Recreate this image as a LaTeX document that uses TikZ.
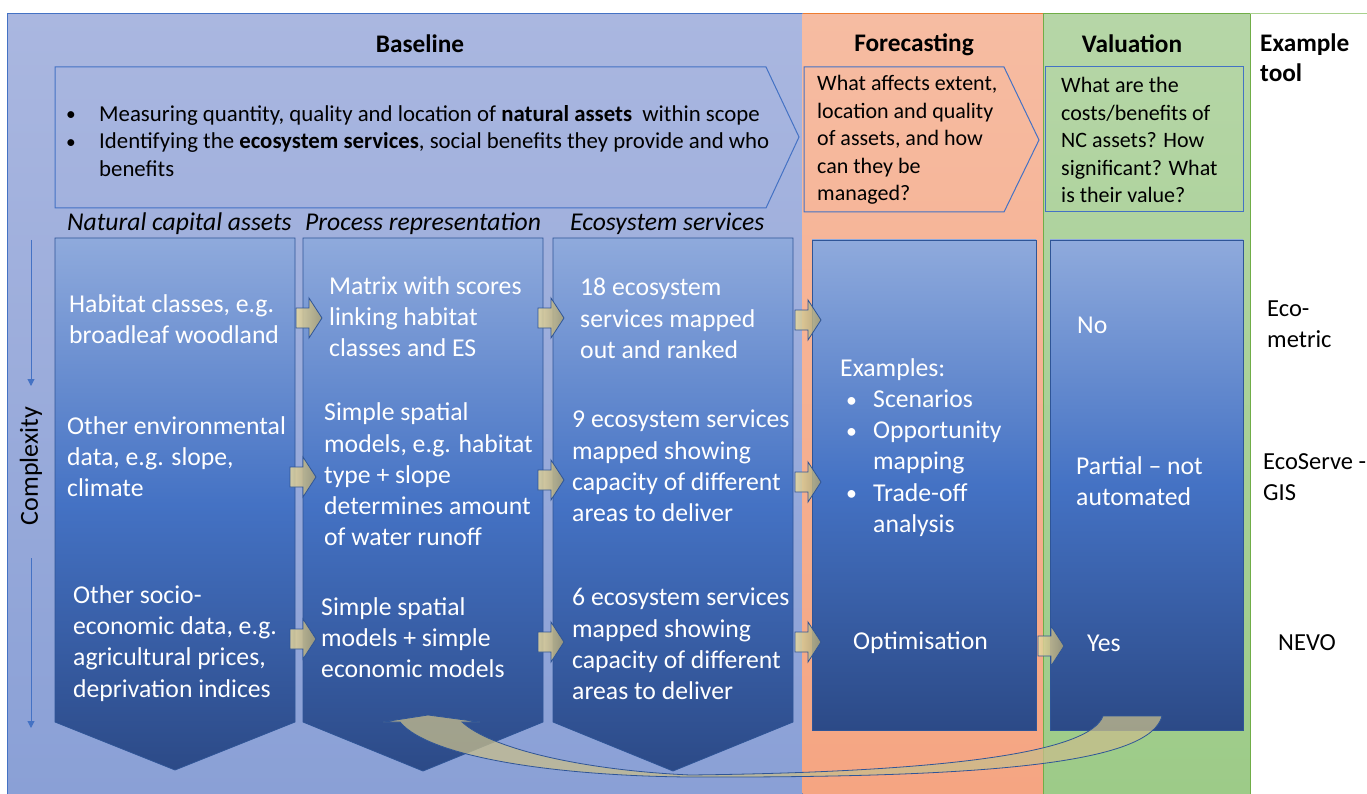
\documentclass[tikz,border=0pt]{standalone}
\usepackage{fontspec}
\setmainfont{Carlito}
\usetikzlibrary{arrows.meta}
\definecolor{basetop}{RGB}{170,183,224}
\definecolor{basebot}{RGB}{138,160,214}
\definecolor{foretop}{RGB}{246,188,162}
\definecolor{forebot}{RGB}{245,165,130}
\definecolor{valtop}{RGB}{182,214,167}
\definecolor{valbot}{RGB}{157,203,136}
\definecolor{coltop}{RGB}{143,170,220}
\definecolor{colmid}{RGB}{68,114,196}
\definecolor{colbot}{RGB}{44,74,135}
\definecolor{accblue}{RGB}{68,114,196}
\definecolor{darkblue}{RGB}{47,85,151}
\definecolor{accorange}{RGB}{237,125,49}
\definecolor{accgreen}{RGB}{112,173,71}
\definecolor{lightgreen}{RGB}{169,209,142}
\definecolor{arrL}{RGB}{232,216,158}
\definecolor{arrR}{RGB}{165,158,118}
\definecolor{curvefill}{RGB}{200,190,140}
\newcommand{\smbul}{\raisebox{0.5pt}{\scalebox{0.85}{\textbullet}}}
\tikzset{
  hdr/.style={font=\fontsize{25.3}{30}\selectfont\bfseries, inner sep=0pt},
  colhdr/.style={font=\fontsize{25.6}{30}\selectfont\itshape, inner sep=0pt, anchor=west},
  wtext/.style={text=white, font=\fontsize{25.7}{31.2}\selectfont, align=left, anchor=west, inner sep=0pt},
  ktext/.style={text=black, font=\fontsize{24.5}{31}\selectfont, align=left, anchor=west, inner sep=0pt},
  qtext/.style={text=black, font=\fontsize{22}{27.5}\selectfont, align=left, anchor=west, inner sep=0pt},
  btext/.style={text=black, font=\fontsize{22.8}{27.5}\selectfont, align=left, anchor=west, inner sep=0pt},
  chev/.style={draw=accblue, line width=1pt},
  colshade/.style={top color=coltop, bottom color=colbot, middle color=colmid, draw=darkblue, line width=0.8pt},
  barrow/.pic={\shade[left color=arrL, right color=arrR, draw=darkblue, line width=0.8pt, fill opacity=0.85]
     (0,-10) -- (13,-10) -- (13,-20) -- (26,0) -- (13,20) -- (13,10) -- (0,10) -- cycle;},
  cplx/.style={-{Triangle[length=7pt,width=7pt]}, draw=accblue, line width=1pt}
}
\begin{document}
\begin{tikzpicture}[x=1pt,y=-1pt]
\useasboundingbox (0,0) rectangle (1367,794);
\fill[white] (0,0) rectangle (1367,794);
% backgrounds
\shade[top color=basetop, bottom color=basebot] (7,14) rectangle (802,794);
\draw[accblue, line width=1pt] (7,794) -- (7,14) -- (802,14) -- (802,794);
\shade[top color=foretop, bottom color=forebot] (802.5,14) rectangle (1043,794);
\draw[accorange, line width=1pt] (802.5,14) -- (1043,14);
\shade[top color=valtop, bottom color=valbot] (1043,14) rectangle (1250,794);
\draw[accgreen, line width=1pt] (1043,794) -- (1043,14) -- (1250,14) -- (1250,794);
\draw[lightgreen, line width=1pt] (1250,14) -- (1367,14);
% headers
\node[hdr] (hbase) at (420,44) {Baseline};
\node[hdr] (hfore) at (914,45) {Forecasting};
\node[hdr] (hval) at (1132,44) {Valuation};
\node[hdr, anchor=west, align=left, font=\fontsize{25.3}{30}\selectfont\bfseries] (htool) at (1260,58) {Example\\tool};
% top chevrons
\draw[chev] (55,67) -- (766,67) -- (799,137) -- (766,208) -- (55,208) -- cycle;
\node[btext] (bul) at (66,141) {\makebox[33pt][l]{\smbul}Measuring quantity, quality and location of \textbf{natural assets}\ \ within scope\\
\makebox[33pt][l]{\smbul}Identifying the \textbf{ecosystem services}, social benefits they provide and who\\
\hspace*{33pt}benefits};
\draw[chev] (804,67) -- (1004,67) -- (1039,140) -- (1004,212) -- (804,212) -- cycle;
\node[qtext] (fq) at (817,140) {What affects extent,\\location and quality\\of assets, and how\\can they be\\managed?};
\draw[chev] (1045,67) rectangle (1243,212);
\node[qtext] (vq) at (1061,140) {What are the\\costs/benefits of\\NC assets? How\\significant? What\\is their value?};
% column headers
\node[colhdr] (h1) at (67,224) {Natural capital assets};
\node[colhdr] (h2) at (305,224) {Process representation};
\node[colhdr] (h3) at (570,224) {Ecosystem services};
% complexity
\draw[cplx] (31,240) -- (31,386);
\draw[cplx] (31,558) -- (31,728);
\node[rotate=90, font=\fontsize{26}{30}\selectfont, inner sep=0pt] (cx) at (31,466) {Complexity};
% columns
\shade[colshade] (55,238) -- (295,238) -- (295,722) -- (175,770) -- (55,722) -- cycle;
\shade[colshade] (303,238) -- (543,238) -- (543,722) -- (423,771) -- (303,722) -- cycle;
\shade[colshade] (553,238) -- (793,238) -- (793,722) -- (673,771) -- (553,722) -- cycle;
\shade[colshade] (812,240) rectangle (1036,730);
\shade[colshade] (1050,240) rectangle (1243,730);
% column texts
\node[wtext] (c1a) at (69,319) {Habitat classes, e.g.\\broadleaf woodland};
\node[wtext] (c1b) at (67,456.5) {Other environmental\\data, e.g. slope,\\climate};
\node[wtext] (c1c) at (73,643.5) {Other socio-\\economic data, e.g.\\agricultural prices,\\deprivation indices};
\node[wtext] (c2a) at (329,316.5) {Matrix with scores\\linking habitat\\classes and ES};
\node[wtext] (c2b) at (324,474.5) {Simple spatial\\models, e.g. habitat\\type + slope\\determines amount\\of water runoff};
\node[wtext] (c2c) at (321,637.5) {Simple spatial\\models + simple\\economic models};
\node[wtext] (c3a) at (580,318.5) {18 ecosystem\\services mapped\\out and ranked};
\node[wtext] (c3b) at (572,466) {9 ecosystem services\\mapped showing\\capacity of different\\areas to deliver};
\node[wtext] (c3c) at (572,644) {6 ecosystem services\\mapped showing\\capacity of different\\areas to deliver};
\node[wtext] (f1) at (840,447.5) {Examples:\\\hspace*{6pt}\makebox[27pt][l]{\smbul}Scenarios\\\hspace*{6pt}\makebox[27pt][l]{\smbul}Opportunity\\\hspace*{33pt}mapping\\\hspace*{6pt}\makebox[27pt][l]{\smbul}Trade-off\\\hspace*{33pt}analysis};
\node[wtext] (f2) at (853,643) {Optimisation};
\node[wtext] (v1) at (1077,325) {No};
\node[wtext] (v2) at (1076,481.5) {Partial – not\\automated};
\node[wtext] (v3) at (1087,643) {Yes};
% example tools
\node[ktext] (t1) at (1267,324.5) {Eco-\\metric};
\node[ktext] (t2) at (1263,477) {EcoServe -\\GIS};
\node[ktext] (t3) at (1278,643) {NEVO};
% small block arrows
\pic at (296,318) {barrow};
\pic at (538,318) {barrow};
\pic at (795,320) {barrow};
\pic at (290,477) {barrow};
\pic at (538,480) {barrow};
\pic at (795,482) {barrow};
\pic at (290,639) {barrow};
\pic at (538,642) {barrow};
\pic at (795,642) {barrow};
\pic at (1038,646) {barrow};
% curved return arrow
\coordinate (tailA) at (1103,716);
\coordinate (tailB) at (1162,716);
\coordinate (headL) at (383,722);
\coordinate (headT) at (428,715);
\coordinate (headR) at (480,722);
\filldraw[fill=curvefill, fill opacity=0.75, draw=darkblue, line width=0.8pt]
  (tailA) -- (tailB) .. controls (1150,762) and (1000,778) .. (690,777)
  .. controls (560,776) and (430,758) .. (400,722) -- (headL) -- (headT) -- (headR) -- (462,722)
  .. controls (490,748) and (580,770) .. (690,775)
  .. controls (950,772) and (1090,752) .. (tailA) -- cycle;
\end{tikzpicture}
\end{document}
